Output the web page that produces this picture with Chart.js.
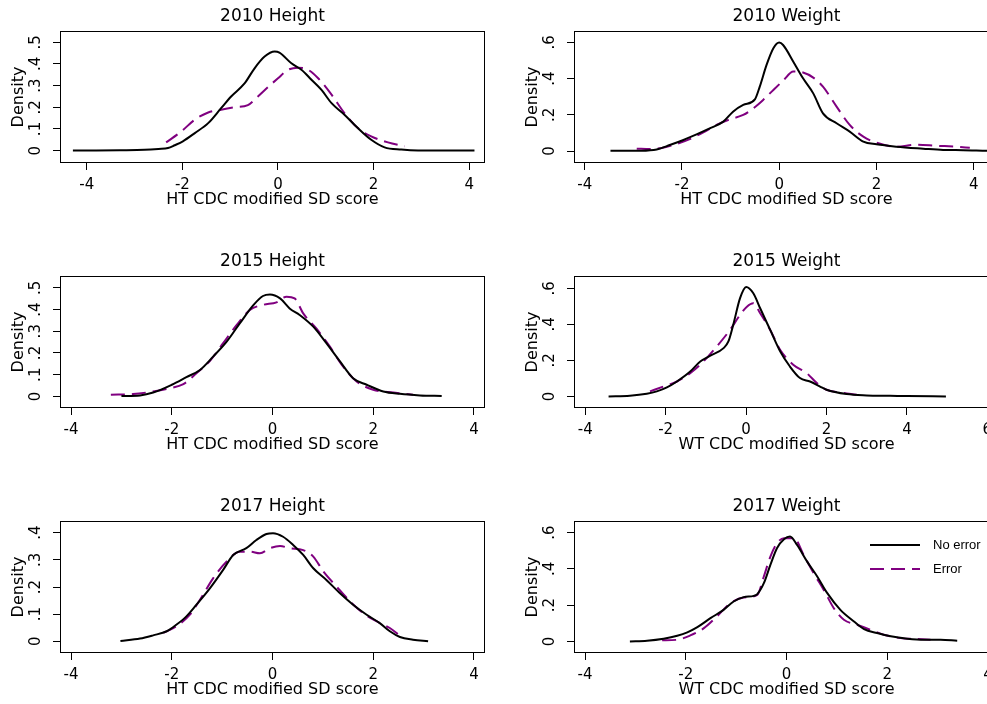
<!DOCTYPE html>
<html>
<head>
<meta charset="utf-8">
<script src="https://cdn.jsdelivr.net/npm/chart.js@4.4.1/dist/chart.umd.min.js"></script>
<style>
  html, body { margin: 0; padding: 0; background: #fff; overflow: hidden; }
  #wrap { position: relative; width: 987px; height: 704px; overflow: hidden; background: #fff; }
  canvas { position: absolute; }
</style>
</head>
<body>
<div id="wrap">
  <canvas id="c1" width="490" height="245" style="left:0px;top:0px"></canvas>
  <canvas id="c2" width="490" height="245" style="left:514px;top:0px"></canvas>
  <canvas id="c3" width="490" height="245" style="left:0px;top:245px"></canvas>
  <canvas id="c4" width="490" height="245" style="left:514px;top:245px"></canvas>
  <canvas id="c5" width="490" height="245" style="left:0px;top:490px"></canvas>
  <canvas id="c6" width="490" height="245" style="left:514px;top:490px"></canvas>
</div>
<script>
// ---------- DATA ----------
const seriesLabels = ["No error", "Error"];
const panelTitles = ["2010 Height", "2010 Weight", "2015 Height", "2015 Weight", "2017 Height", "2017 Weight"];
const xAxisTitles = ["HT CDC modified SD score", "HT CDC modified SD score", "HT CDC modified SD score",
                     "WT CDC modified SD score", "HT CDC modified SD score", "WT CDC modified SD score"];

const xTicksStd = [-4, -2, 0, 2, 4];
const xTicksW15 = [-4, -2, 0, 2, 4, 6];
const yTicksHt = [0, 0.1, 0.2, 0.3, 0.4, 0.5];
const yTicksH17 = [0, 0.1, 0.2, 0.3, 0.4];
const yTicksWt = [0, 0.2, 0.4, 0.6];

// 2010 Height
const h10NoX = [-4.29, -3.8, -3.3, -2.79, -2.5, -2.3, -2.16, -1.99, -1.74, -1.46, -1.19, -0.98, -0.70, -0.49, -0.28, -0.07, 0.03, 0.28, 0.49, 0.70, 0.91, 1.12, 1.39, 1.67, 1.95, 2.23, 2.58, 2.93, 3.5, 4.11];
const h10NoY = [0.001, 0.001, 0.002, 0.004, 0.008, 0.012, 0.025, 0.043, 0.081, 0.127, 0.196, 0.25, 0.31, 0.38, 0.434, 0.457, 0.452, 0.403, 0.373, 0.327, 0.28, 0.219, 0.166, 0.104, 0.05, 0.015, 0.005, 0.001, 0.001, 0.001];
const h10ErX = [-2.34, -2.02, -1.74, -1.46, -1.19, -0.91, -0.63, -0.42, -0.21, 0, 0.21, 0.42, 0.63, 0.84, 1.12, 1.39, 1.67, 1.95, 2.30, 2.65];
const h10ErY = [0.038, 0.089, 0.143, 0.176, 0.189, 0.2, 0.21, 0.25, 0.293, 0.334, 0.373, 0.383, 0.373, 0.334, 0.258, 0.173, 0.104, 0.066, 0.038, 0.02];

// 2010 Weight
const w10NoX = [-3.47, -2.86, -2.52, -2.25, -1.97, -1.70, -1.43, -1.15, -0.95, -0.74, -0.50, -0.40, -0.26, -0.12, 0, 0.08, 0.29, 0.49, 0.70, 0.90, 1.18, 1.45, 1.73, 2.0, 2.41, 2.96, 3.37, 3.78, 4.27, 4.6];
const w10NoY = [0.001, 0.002, 0.009, 0.033, 0.061, 0.092, 0.125, 0.162, 0.217, 0.254, 0.285, 0.355, 0.475, 0.567, 0.598, 0.585, 0.493, 0.401, 0.318, 0.208, 0.153, 0.107, 0.052, 0.037, 0.024, 0.013, 0.006, 0.005, 0.002, 0.001];
const w10ErX = [-2.93, -2.66, -2.39, -2.11, -1.84, -1.56, -1.29, -1.01, -0.74, -0.53, -0.33, -0.12, 0.08, 0.29, 0.49, 0.70, 0.90, 1.18, 1.45, 1.73, 2.0, 2.41, 2.82, 3.24, 3.65, 3.92];
const w10ErY = [0.013, 0.011, 0.018, 0.039, 0.066, 0.103, 0.144, 0.175, 0.199, 0.236, 0.282, 0.337, 0.388, 0.438, 0.433, 0.405, 0.355, 0.245, 0.144, 0.079, 0.046, 0.024, 0.035, 0.029, 0.024, 0.018];

// 2015 Height
const h15NoX = [-3.0, -2.63, -2.37, -2.0, -1.71, -1.44, -1.18, -0.91, -0.65, -0.38, -0.19, -0.05, 0.15, 0.34, 0.54, 0.81, 1.07, 1.34, 1.60, 1.87, 2.2, 2.53, 2.93, 3.36];
const h15NoY = [0.002, 0.005, 0.018, 0.054, 0.089, 0.122, 0.183, 0.252, 0.336, 0.42, 0.462, 0.469, 0.451, 0.405, 0.375, 0.321, 0.245, 0.161, 0.084, 0.054, 0.023, 0.012, 0.005, 0.002];
const h15ErX = [-3.21, -2.77, -2.37, -2.04, -1.77, -1.51, -1.24, -0.98, -0.71, -0.45, -0.19, 0.08, 0.28, 0.44, 0.61, 0.87, 1.14, 1.40, 1.67, 2.0, 2.4, 2.79];
const h15ErY = [0.008, 0.011, 0.023, 0.038, 0.057, 0.107, 0.164, 0.245, 0.329, 0.398, 0.421, 0.433, 0.459, 0.451, 0.382, 0.313, 0.229, 0.138, 0.069, 0.031, 0.018, 0.008];

// 2015 Weight
const w15NoX = [-3.42, -2.89, -2.47, -2.22, -1.97, -1.72, -1.39, -1.14, -0.90, -0.56, -0.44, -0.32, -0.15, 0, 0.18, 0.35, 0.6, 0.85, 1.09, 1.34, 1.59, 1.84, 2.0, 2.5, 3.0, 3.58, 4.0, 4.97];
const w15NoY = [0.0, 0.004, 0.015, 0.028, 0.05, 0.083, 0.138, 0.194, 0.225, 0.268, 0.305, 0.397, 0.545, 0.607, 0.572, 0.489, 0.369, 0.249, 0.166, 0.102, 0.083, 0.055, 0.037, 0.013, 0.006, 0.004, 0.002, 0.0];
const w15ErX = [-2.39, -2.06, -1.72, -1.39, -1.06, -0.73, -0.40, -0.15, 0.02, 0.18, 0.35, 0.6, 0.85, 1.18, 1.51, 1.76, 2.0, 2.34, 2.75];
const w15ErY = [0.028, 0.055, 0.083, 0.129, 0.194, 0.277, 0.369, 0.452, 0.498, 0.517, 0.461, 0.369, 0.258, 0.175, 0.129, 0.074, 0.037, 0.022, 0.009];

// 2017 Height
const h17NoX = [-3.02, -2.63, -2.37, -2.10, -1.91, -1.71, -1.51, -1.24, -0.98, -0.78, -0.52, -0.32, -0.12, 0.01, 0.21, 0.41, 0.61, 0.81, 1.07, 1.34, 1.60, 1.87, 2.13, 2.33, 2.53, 2.79, 3.09];
const h17NoY = [0.001, 0.01, 0.022, 0.037, 0.061, 0.092, 0.135, 0.196, 0.263, 0.318, 0.343, 0.373, 0.395, 0.398, 0.385, 0.355, 0.318, 0.269, 0.226, 0.177, 0.135, 0.098, 0.067, 0.037, 0.016, 0.006, 0.0];
const h17ErX = [-2.17, -1.91, -1.64, -1.44, -1.18, -0.91, -0.65, -0.45, -0.25, -0.05, 0.15, 0.34, 0.61, 0.81, 1.01, 1.27, 1.54, 1.80, 2.07, 2.33, 2.53];
const h17ErY = [0.031, 0.055, 0.098, 0.153, 0.232, 0.294, 0.33, 0.33, 0.324, 0.343, 0.351, 0.343, 0.336, 0.312, 0.257, 0.202, 0.147, 0.104, 0.073, 0.049, 0.021];

// 2017 Weight
const w17NoX = [-3.11, -2.77, -2.44, -2.17, -1.97, -1.77, -1.51, -1.25, -1.05, -0.85, -0.65, -0.58, -0.45, -0.32, -0.19, -0.05, 0.07, 0.21, 0.41, 0.61, 0.81, 1.07, 1.34, 1.54, 1.80, 2.07, 2.40, 2.73, 3.06, 3.39];
const w17NoY = [0.0, 0.004, 0.015, 0.031, 0.05, 0.079, 0.128, 0.174, 0.22, 0.244, 0.251, 0.261, 0.321, 0.422, 0.514, 0.563, 0.578, 0.532, 0.44, 0.358, 0.266, 0.174, 0.11, 0.068, 0.046, 0.028, 0.015, 0.009, 0.009, 0.004];
const w17ErX = [-2.47, -2.17, -1.91, -1.64, -1.38, -1.11, -0.85, -0.58, -0.45, -0.32, -0.19, -0.05, 0.15, 0.34, 0.54, 0.74, 0.94, 1.14, 1.40, 1.67, 1.93, 2.26, 2.60, 2.86];
const w17ErY = [0.006, 0.009, 0.033, 0.073, 0.138, 0.211, 0.242, 0.257, 0.358, 0.468, 0.541, 0.569, 0.569, 0.477, 0.376, 0.284, 0.183, 0.119, 0.092, 0.064, 0.037, 0.018, 0.013, 0.009];

// ---------- RENDERING ----------
const FONT = "DejaVu Sans";
const BLACK = "#000000";
const PURPLE = "#800080";
Chart.defaults.color = BLACK;

function pts(xs, ys) { return xs.map((x, i) => ({ x: x, y: ys[i] })); }

function yLabel(v) {
  const r = Math.round(v * 10) / 10;
  if (r === 0) return "0";
  return String(r).replace(/^(-?)0\./, "$1.");
}

const framePlugin = {
  id: "frame",
  afterDatasetsDraw(chart) {
    const a = chart.chartArea, ctx = chart.ctx;
    ctx.save();
    ctx.strokeStyle = BLACK;
    ctx.lineWidth = 1;
    const l = Math.round(a.left) + 0.5, t = Math.round(a.top) + 0.5;
    const r = Math.round(a.right) - 0.5, b = Math.round(a.bottom) - 0.5;
    ctx.strokeRect(l, t, r - l, b - t);
    ctx.restore();
  }
};

const innerLegend = {
  id: "innerLegend",
  afterDraw(chart, args, opts) {
    if (!opts || !opts.show) return;
    const ctx = chart.ctx;
    ctx.save();
    chart.data.datasets.forEach((ds, i) => {
      const y = opts.rowY[i];
      ctx.strokeStyle = ds.borderColor;
      ctx.lineWidth = ds.borderWidth;
      ctx.setLineDash(ds.borderDash || []);
      ctx.beginPath();
      ctx.moveTo(opts.lineX0, y);
      ctx.lineTo(opts.lineX1, y);
      ctx.stroke();
      ctx.setLineDash([]);
      ctx.fillStyle = BLACK;
      ctx.font = "13px 'Liberation Sans'";
      ctx.textAlign = "left";
      ctx.textBaseline = "middle";
      ctx.fillText(ds.label, opts.textX, y);
    });
    ctx.restore();
  }
};

function makePanel(id, idx, noX, noY, erX, erY, xMin, xMax, yMin, yMax, xTicks, yTicks, legend) {
  const gridOpts = { drawOnChartArea: false, drawTicks: true, tickLength: 7, tickColor: BLACK, tickWidth: 1 };
  return new Chart(document.getElementById(id), {
    type: "line",
    data: {
      datasets: [
        { label: seriesLabels[0], data: pts(noX, noY), borderColor: BLACK, borderWidth: 2,
          pointRadius: 0, fill: false, cubicInterpolationMode: "monotone" },
        { label: seriesLabels[1], data: pts(erX, erY), borderColor: PURPLE, borderWidth: 2,
          borderDash: [14, 7], pointRadius: 0, fill: false, cubicInterpolationMode: "monotone" }
      ]
    },
    options: {
      responsive: false,
      animation: false,
      devicePixelRatio: 1,
      events: [],
      layout: { padding: { left: 0, right: 5, top: 0, bottom: 0 } },
      plugins: {
        legend: { display: false },
        tooltip: { enabled: false },
        title: {
          display: true, text: panelTitles[idx], fullSize: false, color: BLACK,
          font: { family: FONT, size: 17, weight: "normal", lineHeight: 1.2 },
          padding: { top: 6.5, bottom: 4.1 }
        },
        innerLegend: legend || { show: false }
      },
      scales: {
        x: {
          type: "linear", min: xMin, max: xMax,
          afterBuildTicks: s => { s.ticks = xTicks.map(v => ({ value: v })); },
          afterFit: s => { s.height = 82; },
          grid: gridOpts,
          border: { display: false },
          ticks: { font: { family: FONT, size: 15 }, color: BLACK, padding: 6, maxRotation: 0, autoSkip: false,
                   callback: v => String(v) },
          title: { display: true, text: xAxisTitles[idx], color: BLACK,
                   font: { family: FONT, size: 16, lineHeight: 1.2 }, padding: { top: 0, bottom: 35.9 } }
        },
        y: {
          type: "linear", min: yMin, max: yMax,
          afterBuildTicks: s => { s.ticks = yTicks.map(v => ({ value: v })); },
          afterFit: s => { s.width = 60; },
          grid: gridOpts,
          border: { display: false },
          ticks: { font: { family: FONT, size: 15 }, color: BLACK, padding: 10, minRotation: 90, maxRotation: 90,
                   crossAlign: "center", autoSkip: false, callback: yLabel },
          title: { display: true, text: "Density", color: BLACK,
                   font: { family: FONT, size: 16, lineHeight: 1.2 }, padding: { top: 9.2, bottom: 0 } }
        }
      }
    },
    plugins: [framePlugin, innerLegend]
  });
}

makePanel("c1", 0, h10NoX, h10NoY, h10ErX, h10ErY, -4.56, 4.33, -0.057, 0.552, xTicksStd, yTicksHt);
makePanel("c2", 1, w10NoX, w10NoY, w10ErX, w10ErY, -4.22, 4.52, -0.066, 0.662, xTicksStd, yTicksWt);
makePanel("c3", 2, h15NoX, h15NoY, h15ErX, h15ErY, -4.22, 4.22, -0.053, 0.554, xTicksStd, yTicksHt);
makePanel("c4", 3, w15NoX, w15NoY, w15ErX, w15ErY, -4.28, 6.29, -0.064, 0.668, xTicksW15, yTicksWt);
makePanel("c5", 4, h17NoX, h17NoY, h17ErX, h17ErY, -4.22, 4.22, -0.043, 0.443, xTicksStd, yTicksH17);
makePanel("c6", 5, w17NoX, w17NoY, w17ErX, w17ErY, -4.22, 4.22, -0.064, 0.664, xTicksStd, yTicksWt,
          { show: true, lineX0: 356, lineX1: 406, textX: 419, rowY: [55, 79] });
</script>
</body>
</html>
